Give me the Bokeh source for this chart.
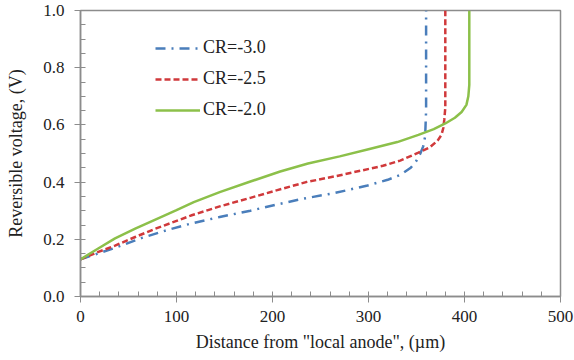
from bokeh.plotting import figure
from bokeh.models import Range1d, SingleIntervalTicker, NumeralTickFormatter, Legend, LegendItem
from bokeh.embed import file_html
from bokeh.resources import INLINE

# CR = -3.0
x_cr30 = [0, 18, 36, 64, 90, 115, 145, 177, 205, 232, 265, 299, 320, 333, 344, 350, 354, 357, 359, 360, 360]
y_cr30 = [0.13, 0.15, 0.17, 0.205, 0.232, 0.255, 0.278, 0.30, 0.322, 0.342, 0.362, 0.388, 0.408, 0.425, 0.45, 0.475, 0.50, 0.525, 0.56, 0.65, 1.0]
# CR = -2.5
x_cr25 = [0, 18, 36, 57, 78, 115, 145, 177, 205, 235, 265, 292, 315, 333, 352, 364, 372, 376, 378, 379, 380, 380]
y_cr25 = [0.13, 0.155, 0.178, 0.208, 0.237, 0.283, 0.315, 0.345, 0.372, 0.40, 0.42, 0.44, 0.457, 0.475, 0.503, 0.522, 0.545, 0.565, 0.59, 0.62, 0.66, 1.0]
# CR = -2.0
x_cr20 = [0, 18, 36, 57, 78, 100, 118, 145, 177, 208, 237, 270, 300, 330, 352, 368, 380, 390, 397, 402, 404, 405, 405]
y_cr20 = [0.13, 0.167, 0.203, 0.237, 0.269, 0.302, 0.33, 0.365, 0.402, 0.437, 0.465, 0.49, 0.515, 0.54, 0.565, 0.585, 0.605, 0.625, 0.645, 0.67, 0.70, 0.74, 1.0]

labels = ["CR=-3.0", "CR=-2.5", "CR=-2.0"]

FONT = "Liberation Serif"

p = figure(width=574, height=360, output_backend="svg", toolbar_location=None,
           x_range=Range1d(0, 500), y_range=Range1d(0, 1.0),
           min_border_left=80, min_border_right=14, min_border_top=10, min_border_bottom=64)
p.xgrid.visible = False
p.ygrid.visible = False
p.outline_line_color = "#8c8c8c"
p.outline_line_width = 1.5

r1 = p.line(x_cr30, y_cr30, line_color="#4a7ebb", line_width=2.5, line_dash="10 6 2 6")
r2 = p.line(x_cr25, y_cr25, line_color="#d0393b", line_width=2.5, line_dash="6 3")
r3 = p.line(x_cr20, y_cr20, line_color="#8cc04a", line_width=2.5)

p.xaxis.ticker = SingleIntervalTicker(interval=100, num_minor_ticks=5)
p.yaxis.ticker = SingleIntervalTicker(interval=0.2, num_minor_ticks=4)
p.yaxis.formatter = NumeralTickFormatter(format="0.0")

for ax in (p.xaxis, p.yaxis):
    ax.axis_line_color = "#8c8c8c"
    ax.axis_line_width = 1.5
    ax.major_tick_line_color = "#8c8c8c"
    ax.minor_tick_line_color = "#8c8c8c"
    ax.major_tick_out = 6
    ax.major_tick_in = 0
    ax.minor_tick_in = 5
    ax.minor_tick_out = 0
    ax.major_label_text_font = FONT
    ax.major_label_text_font_size = "17px"
    ax.major_label_text_color = "#222222"
    ax.axis_label_text_font = FONT
    ax.axis_label_text_font_size = "18px"
    ax.axis_label_text_font_style = "normal"
    ax.axis_label_text_color = "#222222"

p.xaxis.axis_label = 'Distance from "local anode", (\u00b5m)'
p.yaxis.axis_label = "Reversible voltage, (V)"
p.xaxis.major_label_standoff = 8
p.yaxis.major_label_standoff = 10
p.xaxis.axis_label_standoff = 7
p.yaxis.axis_label_standoff = 14

legend = Legend(items=[LegendItem(label=labels[0], renderers=[r1]),
                       LegendItem(label=labels[1], renderers=[r2]),
                       LegendItem(label=labels[2], renderers=[r3])],
                location=(75, 176))
legend.border_line_color = None
legend.background_fill_alpha = 0
legend.padding = 0
legend.margin = 0
legend.spacing = 10
legend.glyph_width = 45
legend.glyph_height = 20
legend.label_height = 20
legend.label_standoff = 3
legend.label_text_font = FONT
legend.label_text_font_size = "18px"
legend.label_text_color = "#222222"
p.add_layout(legend, "center")

open("out.html", "w").write(file_html(p, INLINE))
